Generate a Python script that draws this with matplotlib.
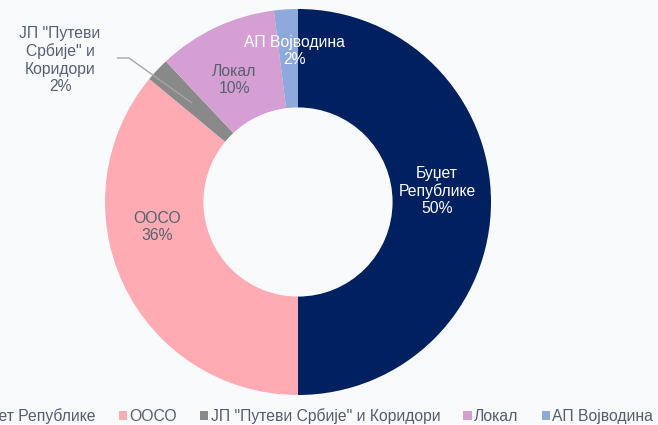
import matplotlib.pyplot as plt
from matplotlib.patches import Patch

plt.rcParams['font.family'] = ['Liberation Sans', 'DejaVu Sans']

categories = ['Буџет Републике', 'ООСО', 'ЈП "Путеви Србије" и Коридори', 'Локал', 'АП Војводина']
shares = [50, 36, 2, 10, 2]
colors = ['#00205f', '#ffabb3', '#898989', '#d59fd3', '#8eaadc']
label_texts = ['Буџет\nРепублике', 'ООСО', 'ЈП "Путеви\nСрбије" и\nКоридори', 'Локал', 'АП Војводина']
label_colors = ['white', '#56606f', '#56606f', '#56606f', 'white']

bg = '#f9fafb'
fs = 11.3
fig = plt.figure(figsize=(6.58, 4.25), dpi=100, facecolor=bg)
ax = fig.add_axes([0, 0, 1, 1])
ax.set_facecolor(bg)

cx, cy, R = 298, 223, 193
wedges, _ = ax.pie(shares, colors=colors, startangle=90, counterclock=False,
                   center=(cx, cy), radius=R,
                   wedgeprops=dict(width=R * 0.51, linewidth=0))
ax.set_xlim(0, 658)
ax.set_ylim(0, 425)
ax.set_aspect('equal')
ax.axis('off')

# data labels: category name + share
label_pos = [(437, 234), (157, 198), (60, 365), (234, 345), (294, 374)]
for txt, val, (x, y), c in zip(label_texts, shares, label_pos, label_colors):
    ax.text(x, y, f'{txt}\n{val}%', ha='center', va='center', fontsize=fs,
            color=c, linespacing=1.2)

# leader line for the small slice
ax.plot([117, 129, 192], [367, 367, 322], color='#a6a6a6', lw=1, solid_capstyle='butt')

handles = [Patch(facecolor=c, edgecolor='none') for c in colors]
fig.legend(handles, categories, loc='center right', bbox_to_anchor=(653 / 658, 0.021),
           ncol=5, frameon=False, fontsize=fs, borderpad=0, borderaxespad=0,
           handlelength=0.52, handleheight=0.52, handletextpad=0.15,
           columnspacing=1.48, labelcolor='#555d6b')

fig.savefig('out.png', dpi=100, facecolor=bg)
